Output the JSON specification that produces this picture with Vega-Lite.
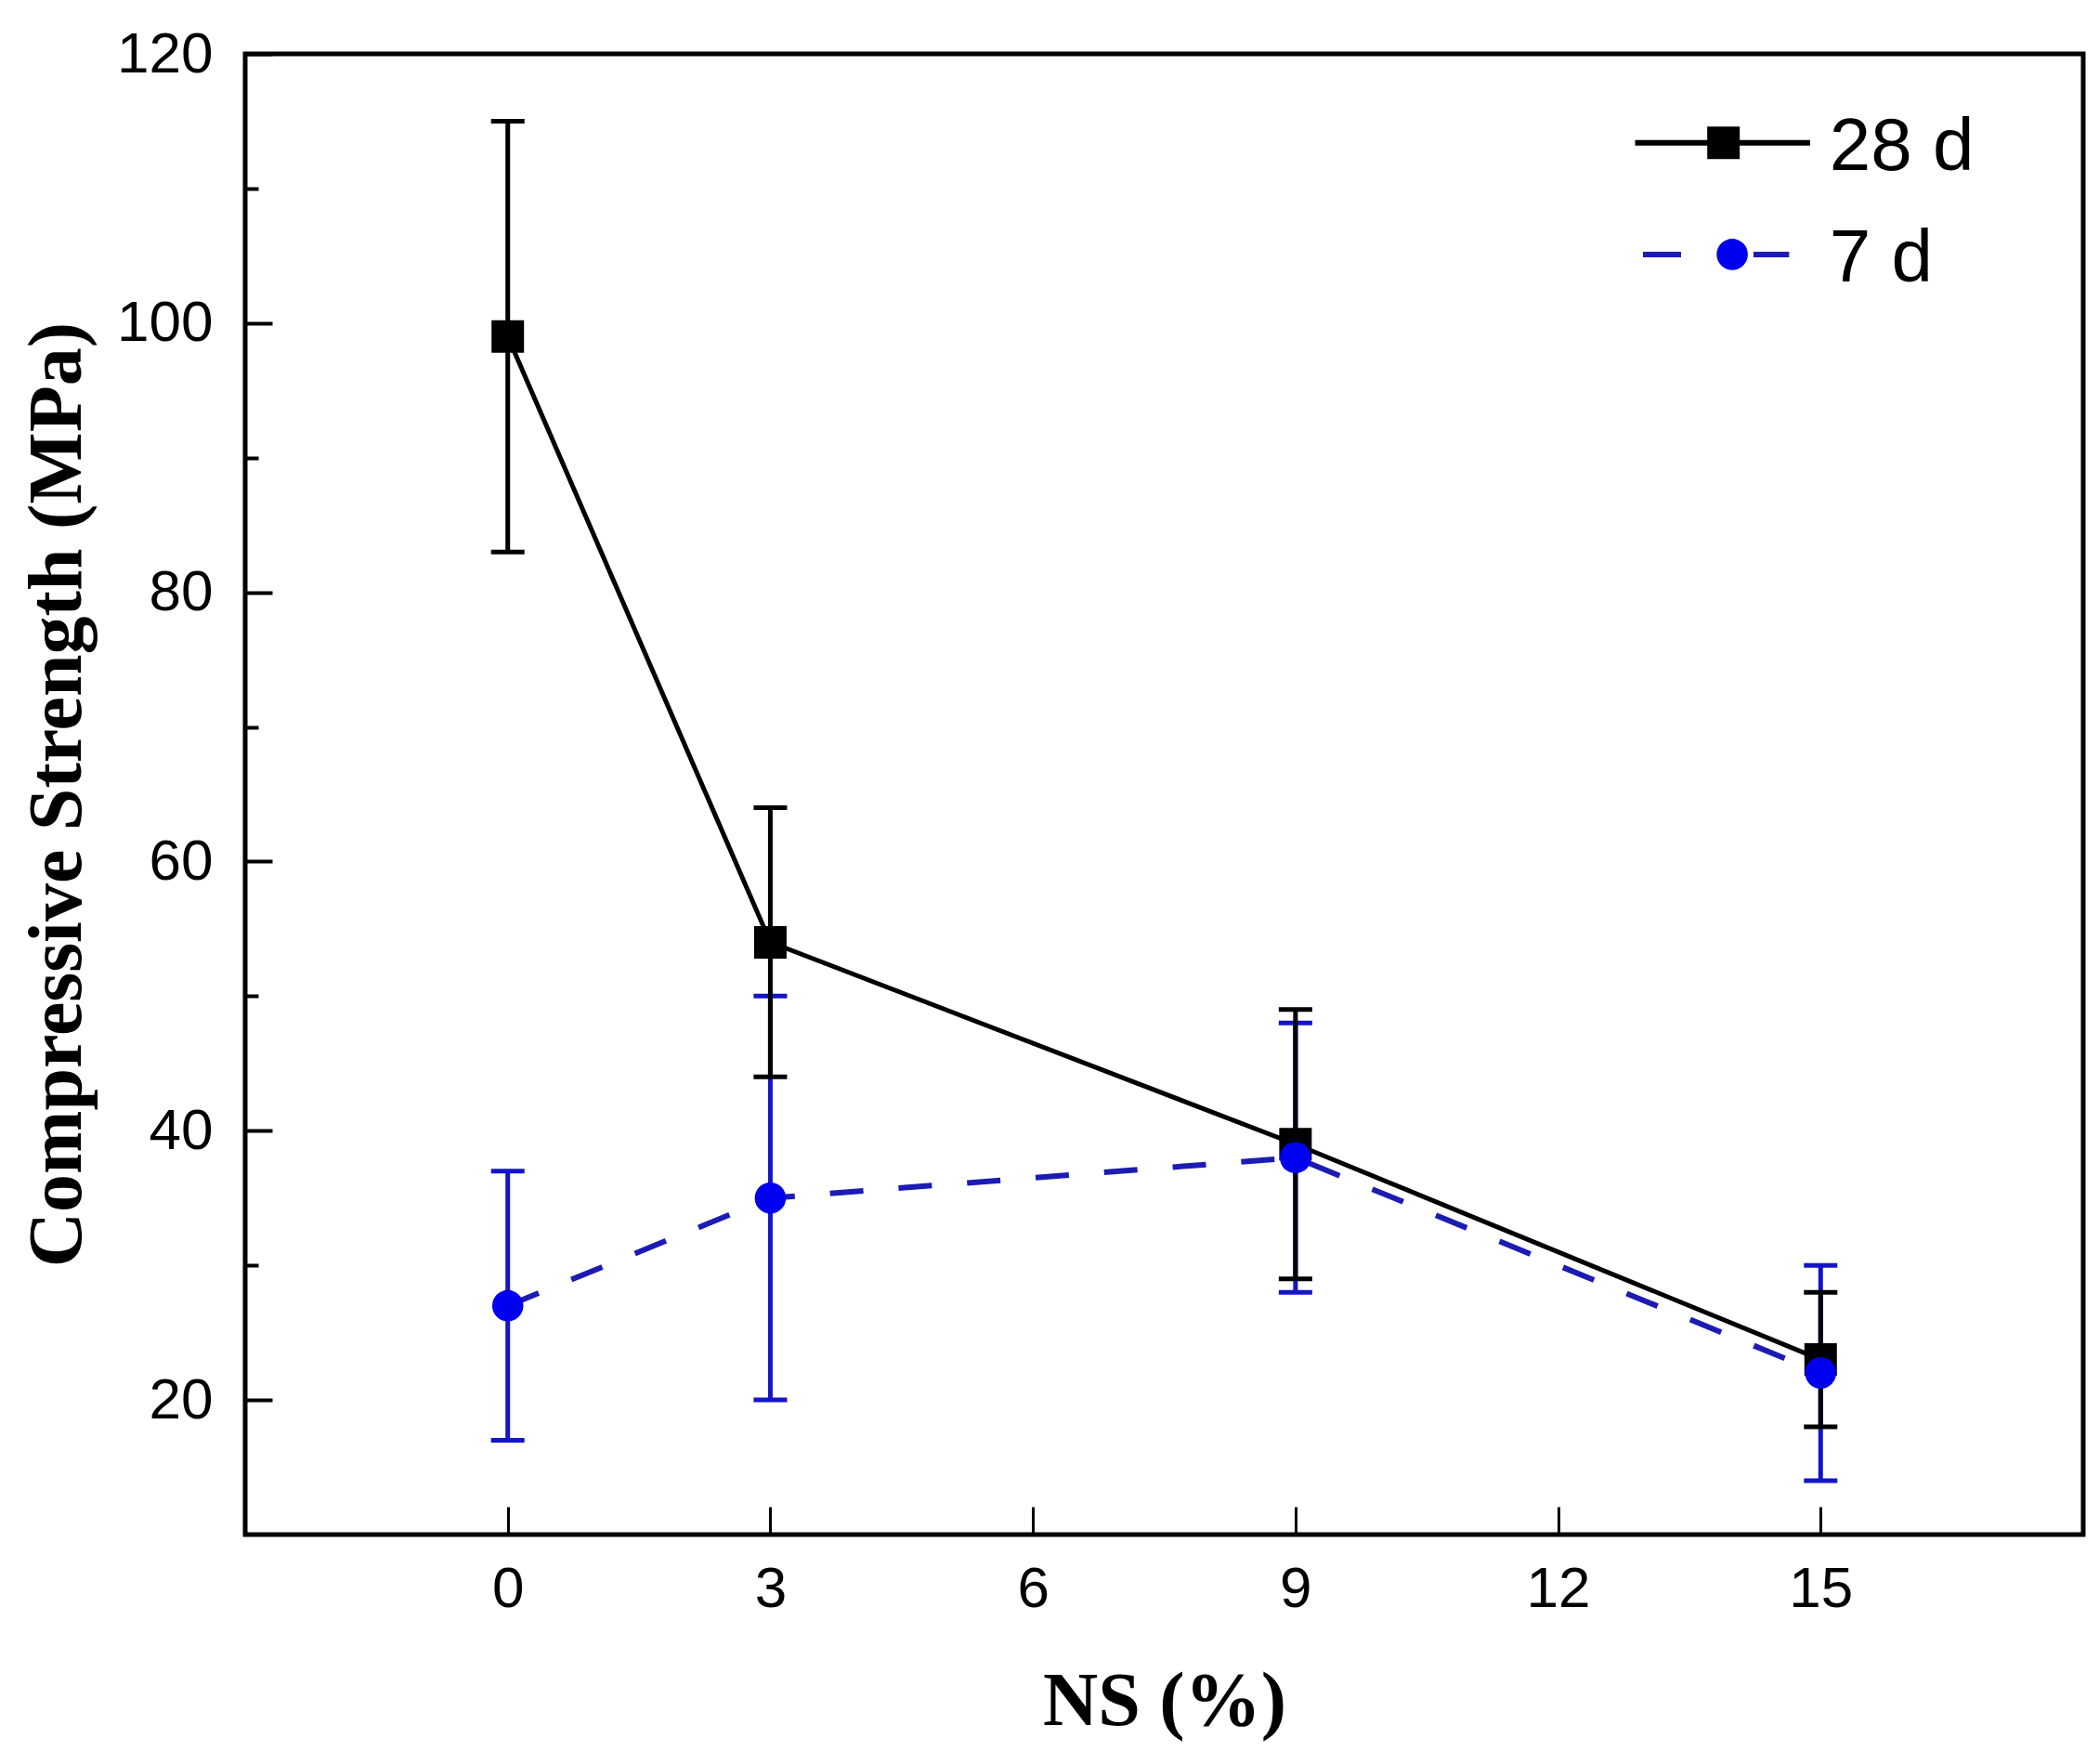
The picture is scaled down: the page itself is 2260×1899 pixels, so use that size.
{
  "$schema": "https://vega.github.io/schema/vega-lite/v6.json",
  "width": 1979,
  "height": 1594,
  "autosize": {"type": "none"},
  "padding": {"left": 264, "top": 58, "right": 17, "bottom": 247},
  "background": "white",
  "datasets": {
    "strength": [
      {"ns": 0, "series": "28 d", "mean": 99, "lo": 83, "hi": 115},
      {"ns": 3, "series": "28 d", "mean": 54, "lo": 44, "hi": 64},
      {"ns": 9, "series": "28 d", "mean": 39, "lo": 29, "hi": 49},
      {"ns": 15, "series": "28 d", "mean": 23, "lo": 18, "hi": 28},
      {"ns": 0, "series": "7 d", "mean": 27, "lo": 17, "hi": 37},
      {"ns": 3, "series": "7 d", "mean": 35, "lo": 20, "hi": 50},
      {"ns": 9, "series": "7 d", "mean": 38, "lo": 28, "hi": 48},
      {"ns": 15, "series": "7 d", "mean": 22, "lo": 14, "hi": 30}
    ],
    "legend": [
      {"series": "28 d", "x1": 12.88, "x2": 14.88, "xm": 13.89, "xt": 15.1, "y": 113.4, "yt": 111.4},
      {"series": "7 d", "x1": 12.97, "x2": 14.64, "xm": 13.99, "xt": 15.1, "y": 105.1, "yt": 103.1}
    ]
  },
  "layer": [
    {
      "data": {"name": "strength"},
      "transform": [{"filter": "datum.series === '7 d'"}],
      "mark": {"type": "line", "color": "#1c1cb4", "strokeWidth": 6, "strokeDash": [36, 38]},
      "encoding": {
        "x": {
          "field": "ns",
          "type": "quantitative",
          "title": "NS (%)",
          "scale": {"domain": [-3, 18], "nice": false, "zero": false},
          "axis": {
            "values": [0, 3, 6, 9, 12, 15],
            "format": "d",
            "grid": false,
            "domain": false,
            "tickSize": -30,
            "tickWidth": 3,
            "tickColor": "black",
            "labelFont": "Liberation Sans",
            "labelFontSize": 62,
            "labelColor": "black",
            "labelPadding": 58,
            "titleFont": "Liberation Serif",
            "titleFontWeight": "bold",
            "titleFontSize": 82,
            "titleColor": "black",
            "titlePadding": 50
          }
        },
        "y": {
          "field": "mean",
          "type": "quantitative",
          "title": "Compressive Strength (MPa)",
          "scale": {"domain": [10, 120], "nice": false, "zero": false},
          "axis": {
            "values": [20, 30, 40, 50, 60, 70, 80, 90, 100, 110, 120],
            "labelExpr": "datum.value % 20 === 0 ? datum.label : ''",
            "grid": false,
            "domain": false,
            "tickSize": {"condition": {"test": "datum.value % 20 === 0", "value": -29}, "value": -14},
            "tickWidth": 4,
            "tickColor": "black",
            "labelFont": "Liberation Sans",
            "labelFontSize": 62,
            "labelColor": "black",
            "labelPadding": 64,
            "titleFont": "Liberation Serif",
            "titleFontWeight": "bold",
            "titleFontSize": 82,
            "titleColor": "black",
            "titlePadding": 22
          }
        }
      }
    },
    {
      "data": {"name": "strength"},
      "transform": [{"filter": "datum.series === '7 d'"}],
      "mark": {
        "type": "errorbar",
        "color": "#1414c8",
        "rule": {"strokeWidth": 5, "opacity": 1},
        "ticks": {"size": 36, "thickness": 5, "opacity": 1}
      },
      "encoding": {
        "x": {"field": "ns", "type": "quantitative"},
        "y": {"field": "lo", "type": "quantitative", "title": "Compressive Strength (MPa)"},
        "y2": {"field": "hi"}
      }
    },
    {
      "data": {"name": "strength"},
      "transform": [{"filter": "datum.series === '28 d'"}],
      "mark": {"type": "line", "color": "black", "strokeWidth": 5},
      "encoding": {
        "x": {"field": "ns", "type": "quantitative"},
        "y": {"field": "mean", "type": "quantitative", "title": "Compressive Strength (MPa)"}
      }
    },
    {
      "data": {"name": "strength"},
      "transform": [{"filter": "datum.series === '28 d'"}],
      "mark": {
        "type": "errorbar",
        "color": "black",
        "rule": {"strokeWidth": 5, "opacity": 1},
        "ticks": {"size": 36, "thickness": 5, "opacity": 1}
      },
      "encoding": {
        "x": {"field": "ns", "type": "quantitative"},
        "y": {"field": "lo", "type": "quantitative", "title": "Compressive Strength (MPa)"},
        "y2": {"field": "hi"}
      }
    },
    {
      "data": {"name": "strength"},
      "transform": [{"filter": "datum.series === '28 d'"}],
      "mark": {"type": "point", "shape": "square", "filled": true, "color": "black", "size": 1225, "opacity": 1},
      "encoding": {
        "x": {"field": "ns", "type": "quantitative"},
        "y": {"field": "mean", "type": "quantitative", "title": "Compressive Strength (MPa)"}
      }
    },
    {
      "data": {"name": "strength"},
      "transform": [{"filter": "datum.series === '7 d'"}],
      "mark": {"type": "point", "shape": "circle", "filled": true, "color": "#0000f0", "size": 1130, "opacity": 1},
      "encoding": {
        "x": {"field": "ns", "type": "quantitative"},
        "y": {"field": "mean", "type": "quantitative", "title": "Compressive Strength (MPa)"}
      }
    },
    {
      "data": {"name": "legend"},
      "transform": [{"filter": "datum.series === '28 d'"}],
      "mark": {"type": "rule", "color": "black", "strokeWidth": 6},
      "encoding": {
        "x": {"field": "x1", "type": "quantitative", "title": "NS (%)"},
        "x2": {"field": "x2"},
        "y": {"field": "y", "type": "quantitative", "title": "Compressive Strength (MPa)"}
      }
    },
    {
      "data": {"name": "legend"},
      "transform": [{"filter": "datum.series === '7 d'"}],
      "mark": {"type": "rule", "color": "#1c1cb4", "strokeWidth": 6, "strokeDash": [41, 78]},
      "encoding": {
        "x": {"field": "x1", "type": "quantitative", "title": "NS (%)"},
        "x2": {"field": "x2"},
        "y": {"field": "y", "type": "quantitative", "title": "Compressive Strength (MPa)"}
      }
    },
    {
      "data": {"name": "legend"},
      "mark": {"type": "point", "filled": true, "opacity": 1},
      "encoding": {
        "x": {"field": "xm", "type": "quantitative", "title": "NS (%)"},
        "y": {"field": "y", "type": "quantitative", "title": "Compressive Strength (MPa)"},
        "shape": {"field": "series", "type": "nominal", "scale": {"domain": ["28 d", "7 d"], "range": ["square", "circle"]}, "legend": null},
        "color": {"field": "series", "type": "nominal", "scale": {"domain": ["28 d", "7 d"], "range": ["black", "#0000f0"]}, "legend": null},
        "size": {"field": "series", "type": "nominal", "scale": {"domain": ["28 d", "7 d"], "range": [1225, 1130]}, "legend": null}
      }
    },
    {
      "data": {"name": "legend"},
      "mark": {"type": "text", "align": "left", "baseline": "alphabetic", "font": "Liberation Sans", "fontSize": 80, "color": "black"},
      "encoding": {
        "x": {"field": "xt", "type": "quantitative", "title": "NS (%)"},
        "y": {"field": "yt", "type": "quantitative", "title": "Compressive Strength (MPa)"},
        "text": {"field": "series", "type": "nominal"}
      }
    }
  ],
  "config": {
    "view": {"stroke": "black", "strokeWidth": 5}
  }
}
